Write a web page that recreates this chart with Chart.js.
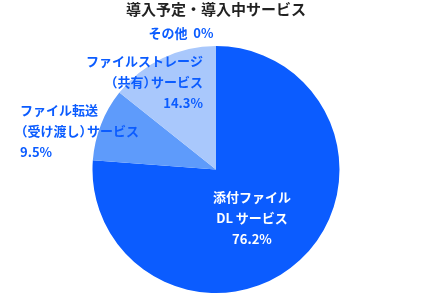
<!DOCTYPE html>
<html>
<head>
<meta charset="utf-8">
<script src="https://cdn.jsdelivr.net/npm/chart.js@4/dist/chart.umd.min.js"></script>
<style>
  html, body { margin: 0; padding: 0; background: #fff; }
  #wrap { width: 432px; height: 300px; }
</style>
</head>
<body>
<div id="wrap"><canvas id="pieChart"></canvas></div>
<script>
// Data
const titleText = '導入予定・導入中サービス';
const categories = [
    ['添付ファイル', 'DL サービス'],
    ['ファイル転送', '（受け渡し）サービス'],
    ['ファイルストレージ', '（共有）サービス'],
    ['その他']
];
const shares = [76.2, 9.5, 14.3, 0];
const sliceColors = ['#0b5cff', '#5e9bfb', '#a9c8fc', '#d6e4fe'];

// Label placement (x, y of first line, alignment, colour)
const labelLayout = [
    { x: 252, y: 197, align: 'center', color: '#ffffff', inline: false },
    { x: 20,  y: 110, align: 'left',   color: '#0b5cff', inline: false },
    { x: 203, y: 61,  align: 'right',  color: '#0b5cff', inline: false },
    { x: 181, y: 33,  align: 'center', color: '#0b5cff', inline: true }
];

const FONT = '"Noto Sans CJK JP", "Noto Sans", sans-serif';
const PAREN_W = 7.5; // proportional width for full-width brackets

// canvas has no 'palt', so squeeze the full-width brackets by hand
const charWidth = (ctx, ch) => (ch === '（' || ch === '）') ? PAREN_W : ctx.measureText(ch).width;

const drawLine = (ctx, text, x, y, align) => {
    const chars = [...text];
    const total = chars.reduce((s, ch) => s + charWidth(ctx, ch), 0);
    let cx = align === 'left' ? x : align === 'right' ? x - total : x - total / 2;
    ctx.textAlign = 'left';
    chars.forEach(ch => {
        const w = ctx.measureText(ch).width;
        // opening bracket glyph sits on the right half of its box
        const shift = ch === '（' ? -(w - PAREN_W) : 0;
        ctx.fillText(ch, cx + shift, y);
        cx += charWidth(ctx, ch);
    });
};

const sliceLabels = {
    id: 'sliceLabels',
    afterDatasetsDraw(chart) {
        const ctx = chart.ctx;
        ctx.save();
        ctx.font = 'bold 13px ' + FONT;
        ctx.textBaseline = 'middle';
        categories.forEach((lines, i) => {
            const pos = labelLayout[i];
            const rows = pos.inline
                ? [lines.join('') + '  ' + shares[i] + '%']
                : [...lines, shares[i].toFixed(1) + '%'];
            ctx.fillStyle = pos.color;
            rows.forEach((t, j) => drawLine(ctx, t, pos.x, pos.y + j * 21, pos.align));
        });
        ctx.restore();
    }
};

new Chart(document.getElementById('pieChart').getContext('2d'), {
    type: 'pie',
    data: {
        labels: categories.map(c => c.join('')),
        datasets: [{
            data: shares,
            backgroundColor: sliceColors,
            borderWidth: 0
        }]
    },
    options: {
        responsive: true,
        maintainAspectRatio: false,
        animation: false,
        layout: { padding: { top: 0, bottom: 7 } },
        plugins: {
            legend: { display: false },
            tooltip: { enabled: false },
            title: {
                display: true,
                text: titleText,
                color: '#222222',
                font: { family: FONT, size: 15, weight: 'bold' },
                padding: { top: 0, bottom: 28 }
            }
        }
    },
    plugins: [sliceLabels]
});
</script>
</body>
</html>
